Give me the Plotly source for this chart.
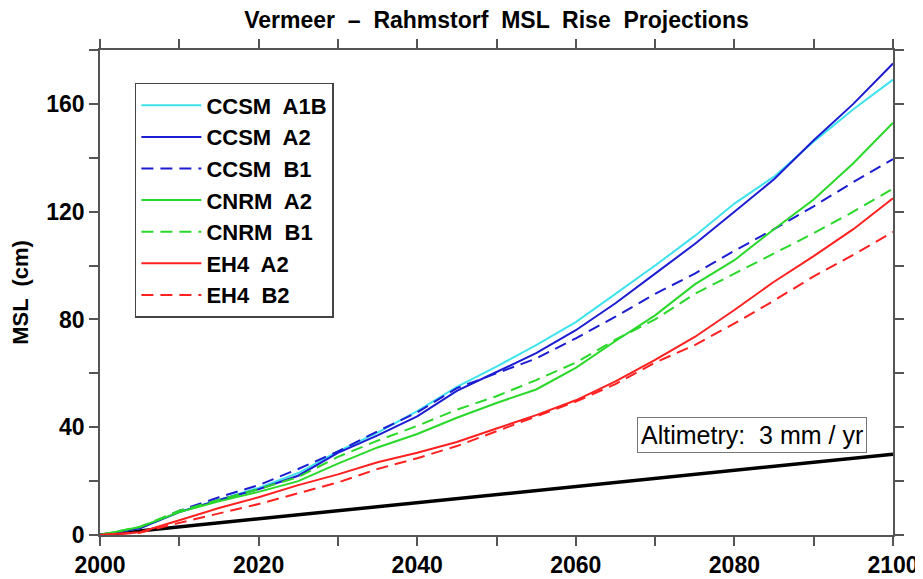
import plotly.graph_objects as go

YEARS = list(range(2000, 2101, 5))

CCSM_A1B = [0, 2.5, 8.5, 13, 17.5, 23, 31, 38, 46, 55, 62.5, 70.5, 79, 89.5, 100, 111, 123, 133, 146, 158, 169]
CCSM_A2 = [0, 2.5, 8.5, 13, 17, 22, 30.5, 37, 44, 53.5, 60.5, 67.5, 76, 86, 97, 108, 120, 132, 146.5, 160, 175]
CCSM_B1 = [0, 2.5, 9, 14, 18.5, 24.5, 31, 38.5, 45.5, 54.5, 60, 65.5, 73, 81, 89.5, 97, 105.5, 113.5, 122, 131, 139.5]
CNRM_A2 = [0, 3, 8.5, 12.5, 16, 20, 26.5, 32.5, 37.5, 43.5, 49, 54, 62, 72, 81.5, 93, 102, 113.5, 124.5, 138, 153]
CNRM_B1 = [0, 3, 9, 13, 17, 21.5, 29, 35, 40.5, 46.5, 51.5, 57.5, 64, 72.5, 80, 89.5, 97, 104.5, 112, 120, 128.5]
EH4_A2 = [0, 1, 5.5, 10, 14, 18.5, 22.5, 27, 30.5, 34.5, 39.5, 44.5, 50, 57, 65, 73.5, 83.5, 94, 103.5, 113.5, 125]
EH4_B2 = [0, 0.8, 4.5, 8, 11.5, 15.5, 19.5, 24.5, 28.5, 33, 38.5, 44, 49.5, 56, 64, 70.5, 78.5, 87, 96, 104, 112.5]

# altimetry trend: 3 mm / yr
ALT_YEARS = [2000, 2100]
ALT_MSL = [0, 30]

SERIES = [
    ("CCSM  A1B", CCSM_A1B, "#3fe3ee", "solid"),
    ("CCSM  A2", CCSM_A2, "#1c1cd2", "solid"),
    ("CCSM  B1", CCSM_B1, "#1c1cd2", "12px,7px"),
    ("CNRM  A2", CNRM_A2, "#2ad82a", "solid"),
    ("CNRM  B1", CNRM_B1, "#2ad82a", "12px,7px"),
    ("EH4  A2", EH4_A2, "#ff2020", "solid"),
    ("EH4  B2", EH4_B2, "#ff2020", "12px,7px"),
]

Y_TICKS = list(range(0, 181, 20))
Y_TEXT = [str(v) if v % 40 == 0 else "" for v in Y_TICKS]
X_TICKS = list(range(2000, 2101, 10))
X_TEXT = [str(v) if v % 20 == 0 else "" for v in X_TICKS]

FONT = "Liberation Sans, Arial, Helvetica, sans-serif"

fig = go.Figure()

fig.add_trace(go.Scatter(
    x=ALT_YEARS, y=ALT_MSL, mode="lines",
    line=dict(color="black", width=3.5),
    showlegend=False,
))

for name, vals, color, dash in SERIES:
    fig.add_trace(go.Scatter(
        x=YEARS, y=vals, mode="lines", name=name,
        line=dict(color=color, width=2, dash=dash),
    ))

axis_common = dict(
    showgrid=False, zeroline=False, automargin=False,
    showline=True, linecolor="#555555", linewidth=1.5,
    mirror="allticks", ticks="outside", ticklen=9, tickwidth=1.5,
    tickcolor="#555555",
    tickfont=dict(family=FONT, size=23, color="black", weight="bold"),
)

fig.update_xaxes(range=[2000, 2100], tickvals=X_TICKS, ticktext=X_TEXT, **axis_common)
fig.update_yaxes(
    range=[0, 180], tickvals=Y_TICKS, ticktext=Y_TEXT,
    title=dict(text="MSL  (cm)", standoff=21,
               font=dict(family=FONT, size=22, color="black", weight="bold")),
    **axis_common,
)

fig.add_annotation(
    x=2082.2, y=37.2, xref="x", yref="y",
    text="Altimetry:  3 mm / yr", showarrow=False,
    font=dict(family=FONT, size=25, color="black"),
    bordercolor="#777777", borderwidth=1, borderpad=3, bgcolor="white",
)

# page body adds an 8px margin, so the figure is sized to fit inside the window
fig.update_layout(
    width=915, height=571,
    paper_bgcolor="white", plot_bgcolor="white",
    margin=dict(l=92, r=30, t=42, b=44, autoexpand=False),
    title=dict(
        text="Vermeer  \u2013  Rahmstorf  MSL  Rise  Projections",
        x=0.5, xref="paper", y=0.979, yref="container", yanchor="middle",
        font=dict(family=FONT, size=23, color="black", weight="bold"),
    ),
    legend=dict(
        x=0.044, y=0.932, xanchor="left", yanchor="top",
        bordercolor="#444444", borderwidth=1.5, bgcolor="white",
        font=dict(family=FONT, size=22, color="black", weight="bold"),
        itemwidth=60,
    ),
)

fig.write_html("out.html")
